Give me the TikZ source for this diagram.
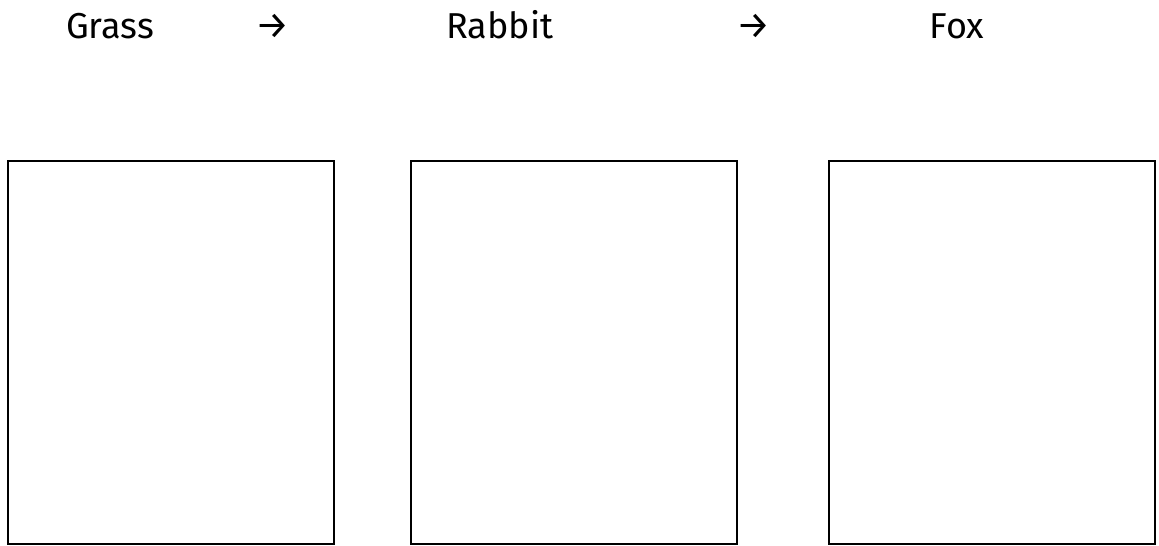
\documentclass[tikz,border=0pt]{standalone}
\usepackage{fontspec}
\setmainfont{Fira Sans}
\usetikzlibrary{positioning}

\tikzset{
  label text/.style={anchor=base,inner sep=0pt,font=\fontsize{36}{42}\selectfont},
  chain arrow/.style={anchor=base,inner sep=0pt,font=\fontsize{38}{44}\selectfont},
  draw box/.style={draw=black,line width=2pt,rectangle,inner sep=0pt,
    minimum width=326pt,minimum height=383pt}
}

\begin{document}
\begin{tikzpicture}[x=1pt,y=-1pt]
    \useasboundingbox (0,0) rectangle (1159,546);
    \node[label text] (grass) at (110,38) {Grass};
    \node[chain arrow] (arrowA) at (273,38) {→};
    \node[label text] (rabbit) at (500,38) {Rabbit};
    \node[chain arrow] (arrowB) at (754,38) {→};
    \node[label text] (fox) at (957,38) {Fox};
    \node[draw box] (boxgrass) at (171,352.5) {};
    \node[draw box] (boxrabbit) at (574,352.5) {};
    \node[draw box] (boxfox) at (991.5,352.5) {};
  \end{tikzpicture}
\end{document}
